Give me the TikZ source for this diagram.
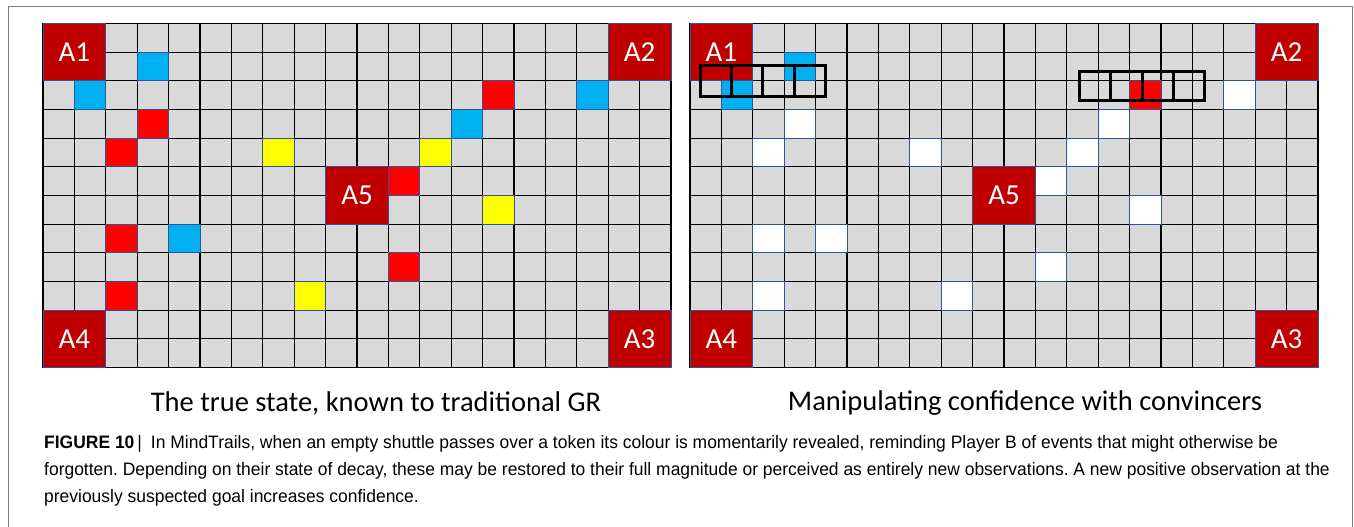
\documentclass[tikz,border=0pt]{standalone}
\usepackage{fontspec}
\setmainfont{Carlito}
\newfontfamily\figcapfont[FakeStretch=0.97]{Liberation Sans}

\definecolor{boardgrey}{HTML}{D9D9D9}
\definecolor{goalred}{HTML}{C00000}
\definecolor{tokred}{HTML}{FF0000}
\definecolor{tokblue}{HTML}{00B0F0}
\definecolor{tokyellow}{HTML}{FFFF00}
\definecolor{tokedge}{HTML}{2F5597}
\definecolor{framegrey}{HTML}{7F7F7F}

\tikzset{
  gridline/.style={black, line width=1.1pt},
  token/.style={draw=tokedge, line width=0.8pt},
  goalbox/.style={fill=goalred, draw=tokedge, line width=0.7pt, inner sep=0pt,
    minimum width=62.8pt, minimum height=57.33pt, text=white,
    font=\fontsize{29}{29}\selectfont},
  shuttle/.style={black, line width=3pt},
  subcap/.style={font=\fontsize{28.5}{28.5}\selectfont},
  capline/.style={anchor=base west, inner sep=0pt, font=\figcapfont\fontsize{18}{18}\selectfont\frenchspacing}
}

% one 20 x 12 board with its five goals; #1 = name prefix
\newcommand{\gameboard}[1]{
  \fill[boardgrey] (0,0) rectangle (20,12);
  \foreach \i in {0,...,20} \draw[gridline] (\i,0) -- (\i,12);
  \foreach \j in {0,...,12} \draw[gridline] (0,\j) -- (20,\j);
  \node[goalbox] (#1a1) at (1,1)  {A1};
  \node[goalbox] (#1a2) at (19,1) {A2};
  \node[goalbox] (#1a3) at (19,11) {A3};
  \node[goalbox] (#1a4) at (1,11) {A4};
  \node[goalbox] (#1a5) at (10,6) {A5};
}

\begin{document}
\begin{tikzpicture}[x=1pt, y=-1pt]
  \useasboundingbox (0,0) rectangle (1354,527);
  \draw[framegrey, line width=1pt] (8,527) -- (8,7) -- (1352,7) -- (1352,527);

  % true state
  \begin{scope}[shift={(43,23.5)}, x=31.4pt, y=-28.667pt]
    \gameboard{t}
    \foreach \c/\r/\col in {3/1/tokblue, 1/2/tokblue, 17/2/tokblue, 13/3/tokblue, 4/7/tokblue,
        14/2/tokred, 3/3/tokred, 2/4/tokred, 11/5/tokred, 2/7/tokred, 11/8/tokred, 2/9/tokred,
        7/4/tokyellow, 12/4/tokyellow, 14/6/tokyellow, 8/9/tokyellow}
      \draw[token, fill=\col] (\c,\r) rectangle ++(1,1);
  \end{scope}

  % convincers
  \begin{scope}[shift={(690,23.5)}, x=31.4pt, y=-28.667pt]
    \gameboard{m}
    \foreach \c/\r/\col in {3/1/tokblue, 1/2/tokblue, 14/2/tokred,
        17/2/white, 3/3/white, 13/3/white, 2/4/white, 7/4/white, 12/4/white, 11/5/white,
        14/6/white, 2/7/white, 4/7/white, 11/8/white, 2/9/white, 8/9/white}
      \draw[token, fill=\col] (\c,\r) rectangle ++(1,1);
    \draw[shuttle] (0.32,1.45) rectangle (4.32,2.53);
    \foreach \i in {1.32,2.32,3.32} \draw[shuttle] (\i,1.45) -- (\i,2.53);
    \draw[shuttle] (12.4,1.66) rectangle (16.4,2.68);
    \foreach \i in {13.4,14.4,15.4} \draw[shuttle] (\i,1.66) -- (\i,2.68);
  \end{scope}

  \node[subcap] (captrue) at (376,403) {The true state, known to traditional GR};
  \node[subcap] (capconv) at (1025,403) {Manipulating confidence with convincers};

  \node[capline] (fig1) at (44,448) {\textbf{FIGURE 10}\thinspace|\enspace In MindTrails, when an empty shuttle passes over a token its colour is momentarily revealed, reminding Player B of events that might otherwise be};
  \node[capline] (fig2) at (44,475) {forgotten. Depending on their state of decay, these may be restored to their full magnitude or perceived as entirely new observations. A new positive observation at the};
  \node[capline] (fig3) at (44,502) {previously suspected goal increases confidence.};
\end{tikzpicture}
\end{document}
